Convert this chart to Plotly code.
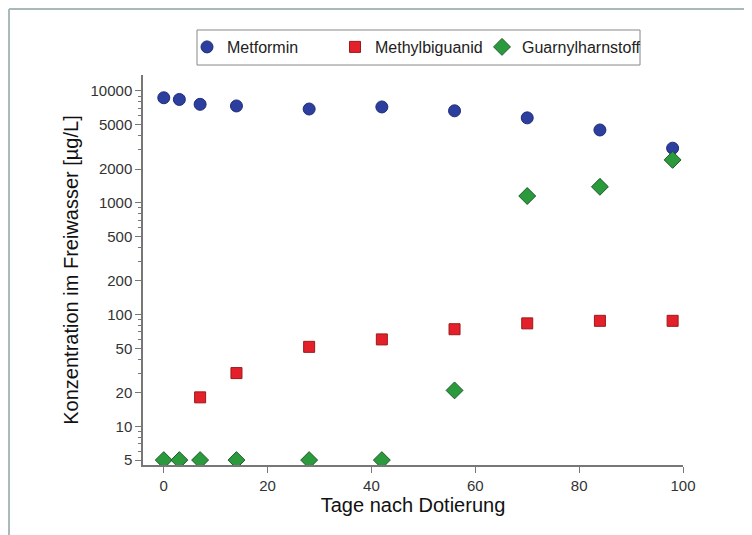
import plotly.graph_objects as go

days = [0, 3, 7, 14, 28, 42, 56, 70, 84, 98]
metformin = [8700, 8400, 7600, 7350, 6900, 7200, 6650, 5750, 4480, 3080]
methyl_days = [7, 14, 28, 42, 56, 70, 84, 98]
methylbiguanid = [18.2, 30, 51.5, 60, 74, 83.5, 88, 88]
guanyl_days = [0, 3, 7, 14, 28, 42, 56, 70, 84, 98]
guanylharnstoff = [5, 5, 5, 5, 5, 5, 21, 1150, 1390, 2420]

ytick_vals = [5, 10, 20, 50, 100, 200, 500, 1000, 2000, 5000, 10000]
ytick_text = ["5", "10", "20", "50", "100", "200", "500", "1000", "2000", "5000", "10000"]
minor_vals = [m * 10 ** e for e in range(0, 5) for m in (2, 3, 4, 6, 7, 8, 9)]
minor_vals = [v for v in minor_vals if 4.5 <= v <= 13000 and v not in ytick_vals]

font = "Liberation Sans, Arial, sans-serif"

fig = go.Figure()
fig.add_trace(go.Scatter(
    x=days, y=metformin, mode="markers", name="Metformin", legend="legend",
    marker=dict(symbol="circle", size=12, color="#2c3e9e",
                line=dict(color="#1f2d78", width=1)),
))
fig.add_trace(go.Scatter(
    x=methyl_days, y=methylbiguanid, mode="markers", name="Methylbiguanid", legend="legend2",
    marker=dict(symbol="square", size=11, color="#e4202a",
                line=dict(color="#9a1a1a", width=1)),
))
fig.add_trace(go.Scatter(
    x=guanyl_days, y=guanylharnstoff, mode="markers", name="Guarnylharnstoff", legend="legend3",
    marker=dict(symbol="diamond", size=13, color="#2a9a3c",
                line=dict(color="#1d5a2a", width=1)),
))

leg_common = dict(orientation="h", yanchor="middle", xanchor="left", y=1.0718,
                  borderwidth=0, bgcolor="rgba(0,0,0,0)",
                  font=dict(size=16, family=font, color="#222"))

fig.update_layout(
    width=752, height=535,
    margin=dict(l=135, r=77, t=67, b=78, autoexpand=False),
    paper_bgcolor="white", plot_bgcolor="white",
    font=dict(family=font, color="#222"),
    showlegend=True,
    legend=dict(x=0.0815, **leg_common),
    legend2=dict(x=0.3556, **leg_common),
    legend3=dict(x=0.6278, **leg_common),
    xaxis=dict(
        range=[-4, 100], tickvals=[0, 20, 40, 60, 80, 100],
        showgrid=False, zeroline=False, showline=True,
        linecolor="#777", linewidth=1.5,
        ticks="outside", ticklen=6, tickcolor="#777", tickwidth=1.2,
        tickfont=dict(size=15, color="#333"),
        title=dict(text="Tage nach Dotierung", font=dict(size=20, color="#111"), standoff=4),
    ),
    yaxis=dict(
        type="log", range=[0.655, 4.143],
        tickvals=ytick_vals, ticktext=ytick_text,
        showgrid=False, zeroline=False, showline=True,
        linecolor="#777", linewidth=1.5,
        ticks="outside", ticklen=6, tickcolor="#777", tickwidth=1.2,
        tickfont=dict(size=15, color="#333"),
        minor=dict(tickmode="array", tickvals=minor_vals, ticks="outside",
                   ticklen=3, tickcolor="#777", tickwidth=1, showgrid=False),
        title=dict(text="Konzentration im Freiwasser [µg/L]", font=dict(size=20, color="#111"), standoff=7),
    ),
    shapes=[
        dict(type="rect", xref="paper", yref="paper", x0=0.1, x1=0.9204, y0=1.0256, y1=1.1154,
             line=dict(color="#888", width=1), fillcolor="white", layer="below"),
        dict(type="line", xref="paper", yref="paper", x0=-0.2481, x1=1.2, y0=1.1692, y1=1.1692,
             line=dict(color="#a9b8bb", width=2)),
        dict(type="line", xref="paper", yref="paper", x0=-0.2481, x1=-0.2481, y0=1.1692, y1=-0.2,
             line=dict(color="#a9b8bb", width=2)),
    ],
)

fig.write_html("out.html")
